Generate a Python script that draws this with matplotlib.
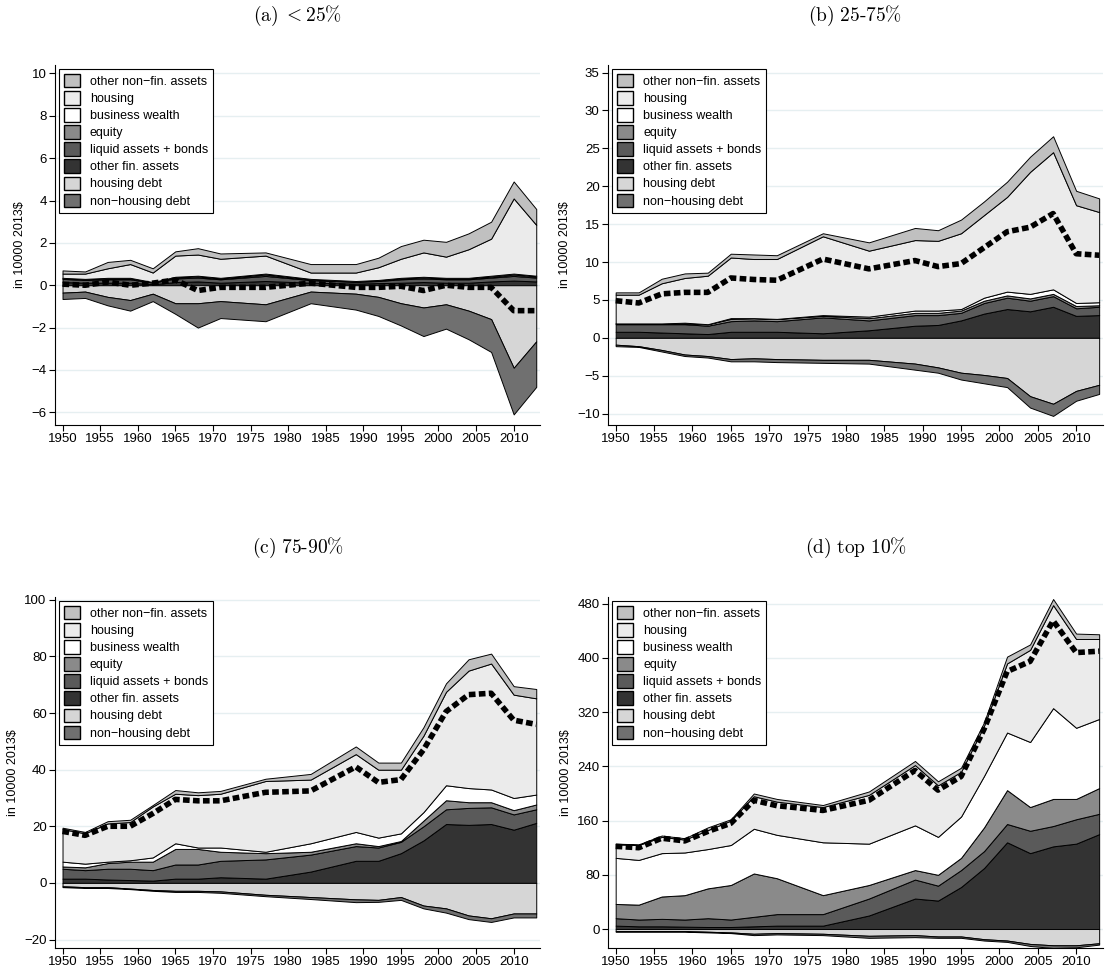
import numpy as np
import matplotlib.pyplot as plt
from matplotlib.patches import Patch

plt.rcParams['mathtext.fontset'] = 'cm'
plt.rcParams['font.family'] = ['Liberation Sans', 'DejaVu Sans']

years = [1950, 1953, 1956, 1959, 1962, 1965, 1968, 1971, 1977, 1983,
         1989, 1992, 1995, 1998, 2001, 2004, 2007, 2010, 2013]

# cumulative tops of the stacked asset layers (bottom to top) and debt bottoms
panels = {
    '(a)\\ <25\\%': dict(
        of=[0.15, 0.12, 0.12, 0.12, 0.05, 0.15, 0.18, 0.12, 0.2, 0.12, 0.08, 0.1, 0.12, 0.15, 0.12, 0.12, 0.18, 0.22, 0.18],
        liq=[0.3, 0.25, 0.28, 0.28, 0.12, 0.32, 0.36, 0.28, 0.44, 0.24, 0.16, 0.2, 0.28, 0.32, 0.28, 0.28, 0.36, 0.44, 0.36],
        eq=[0.33, 0.28, 0.32, 0.32, 0.14, 0.37, 0.41, 0.32, 0.5, 0.27, 0.18, 0.23, 0.32, 0.36, 0.32, 0.32, 0.4, 0.5, 0.41],
        bus=[0.35, 0.3, 0.35, 0.35, 0.15, 0.4, 0.45, 0.35, 0.55, 0.3, 0.2, 0.25, 0.35, 0.4, 0.35, 0.35, 0.45, 0.55, 0.45],
        hou=[0.55, 0.55, 0.8, 1.0, 0.6, 1.4, 1.45, 1.25, 1.4, 0.6, 0.6, 0.85, 1.25, 1.55, 1.35, 1.7, 2.2, 4.1, 2.85],
        tot=[0.7, 0.65, 1.1, 1.2, 0.8, 1.6, 1.75, 1.5, 1.55, 1.0, 1.0, 1.3, 1.85, 2.15, 2.05, 2.45, 3.0, 4.9, 3.6],
        hd=[-0.35, -0.3, -0.55, -0.7, -0.4, -0.85, -0.85, -0.75, -0.9, -0.3, -0.4, -0.55, -0.85, -1.05, -0.9, -1.2, -1.6, -3.9, -2.65],
        nhd=[-0.65, -0.6, -0.95, -1.2, -0.75, -1.35, -2.0, -1.55, -1.7, -0.85, -1.15, -1.45, -1.9, -2.4, -2.05, -2.55, -3.15, -6.1, -4.8],
        net=[0.05, 0, 0.15, 0, 0.1, 0.25, -0.25, -0.1, -0.1, 0.1, -0.1, -0.1, -0.05, -0.25, 0, -0.1, -0.1, -1.2, -1.2],
        ylim=(-6.6, 10.4), yticks=[-6, -4, -2, 0, 2, 4, 6, 8, 10]),
    '(b)\\ 25\\text{-}75\\%': dict(
        of=[0.8, 0.8, 0.7, 0.6, 0.5, 0.8, 0.8, 0.8, 0.6, 1.0, 1.6, 1.7, 2.3, 3.2, 3.8, 3.5, 4.1, 2.9, 3.0],
        liq=[1.8, 1.8, 1.8, 1.8, 1.6, 2.2, 2.3, 2.2, 2.7, 2.3, 3.0, 3.0, 3.3, 4.6, 5.3, 4.9, 5.5, 3.9, 4.1],
        eq=[1.9, 1.9, 1.9, 1.9, 1.8, 2.5, 2.6, 2.5, 2.9, 2.6, 3.3, 3.3, 3.6, 4.9, 5.6, 5.2, 5.8, 4.2, 4.3],
        bus=[1.9, 1.9, 1.9, 2.0, 1.8, 2.6, 2.6, 2.5, 3.0, 2.8, 3.6, 3.6, 3.8, 5.3, 6.1, 5.8, 6.4, 4.6, 4.7],
        hou=[5.7, 5.7, 7.2, 7.9, 8.2, 10.6, 10.4, 10.4, 13.4, 11.5, 12.9, 12.8, 13.8, 16.2, 18.6, 21.9, 24.5, 17.5, 16.6],
        tot=[6.0, 6.0, 7.8, 8.5, 8.6, 11.1, 11.0, 10.9, 13.8, 12.6, 14.5, 14.2, 15.6, 18.0, 20.6, 23.9, 26.6, 19.4, 18.4],
        hd=[-0.9, -1.1, -1.6, -2.2, -2.4, -2.8, -2.7, -2.8, -2.9, -2.9, -3.4, -3.9, -4.6, -4.9, -5.3, -7.7, -8.7, -7.0, -6.2],
        nhd=[-1.1, -1.2, -1.8, -2.4, -2.6, -3.1, -3.1, -3.2, -3.3, -3.4, -4.2, -4.6, -5.5, -6.0, -6.5, -9.2, -10.3, -8.3, -7.4],
        net=[4.9, 4.6, 5.8, 6.0, 6.0, 7.9, 7.7, 7.6, 10.4, 9.1, 10.2, 9.4, 9.8, 11.9, 14.0, 14.6, 16.4, 11.1, 10.9],
        ylim=(-11.5, 36), yticks=[-10, -5, 0, 5, 10, 15, 20, 25, 30, 35]),
    '(c)\\ 75\\text{-}90\\%': dict(
        of=[1.5, 1.5, 1.2, 1.0, 0.8, 1.5, 1.5, 2.0, 1.5, 4.0, 7.8, 7.8, 10.5, 15, 20.8, 20.5, 20.8, 18.8, 21.2],
        liq=[5, 4.5, 5, 5, 4.5, 6.5, 6.5, 7.8, 8.3, 10, 13, 12.5, 14.5, 20, 26, 26.5, 26.7, 24.2, 26],
        eq=[5.8, 5.5, 7, 7.5, 7.5, 12, 12, 11, 10.5, 11, 14, 13, 14.8, 22, 29.2, 28.5, 28.5, 25.7, 27.7],
        bus=[7.5, 6.8, 7.5, 8, 9, 14, 12.5, 12.5, 11, 14, 18, 16, 17.5, 25, 34.5, 33.5, 33, 30, 31.2],
        hou=[19, 17.5, 21, 21.5, 27, 31.5, 31, 31.5, 36, 36.5, 45.5, 40, 40, 52, 67.5, 75, 77.5, 66.5, 65.2],
        tot=[19.5, 18, 21.8, 22.3, 27.5, 32.8, 32, 32.5, 36.8, 38.5, 48.2, 42.5, 42.5, 55, 70.5, 79, 81, 69.5, 68.5],
        hd=[-1.2, -1.5, -1.5, -2, -2.5, -2.8, -2.8, -3, -4.2, -5, -5.8, -6, -5, -8, -9, -11.5, -12.5, -10.8, -10.8],
        nhd=[-1.5, -1.8, -1.8, -2.2, -2.8, -3.2, -3.2, -3.5, -4.7, -5.7, -6.8, -6.7, -6, -9, -10.5, -12.8, -13.8, -12.2, -12.2],
        net=[18.2, 16.8, 20, 20, 24.5, 29.5, 29, 29, 32, 32.5, 41, 35.5, 36.5, 47, 60.5, 66.5, 67, 57.5, 56],
        ylim=(-23, 101), yticks=[-20, 0, 20, 40, 60, 80, 100]),
    '(d)\\ top\\ 10\\%': dict(
        of=[5, 4, 4, 3.5, 3, 3, 4, 5, 5, 20, 45, 42, 62, 90, 128, 112, 122, 126, 140],
        liq=[16, 14, 15, 14, 16, 14, 18, 22, 22, 45, 73, 64, 87, 115, 155, 145, 152, 162, 170],
        eq=[37, 36, 48, 50, 60, 65, 82, 75, 50, 65, 87, 80, 105, 150, 205, 180, 192, 192, 208],
        bus=[105, 102, 112, 113, 118, 124, 148, 139, 128, 126, 153, 136, 166, 226, 290, 276, 326, 297, 310],
        hou=[125, 124, 136, 132, 146, 160, 196, 188, 180, 198, 242, 212, 232, 300, 392, 412, 478, 428, 428],
        tot=[126, 125, 138, 134, 150, 162, 200, 192, 183, 203, 248, 218, 238, 305, 402, 420, 487, 436, 435],
        hd=[-3, -3, -3, -3, -4, -5, -7, -6, -7, -10, -9, -11, -11, -15, -17, -22, -24, -24, -21],
        nhd=[-4, -4, -4, -4, -5, -6, -9, -8, -9, -13, -12, -13, -13, -17, -19, -25, -28, -27, -23],
        net=[122, 120, 134, 130, 144, 156, 190, 182, 175, 190, 234, 205, 225, 295, 380, 395, 455, 408, 410],
        ylim=(-28, 490), yticks=[0, 80, 160, 240, 320, 400, 480]),
}

colors = {'tot': '#c0c0c0', 'hou': '#ebebeb', 'bus': '#ffffff', 'eq': '#8a8a8a',
          'liq': '#5a5a5a', 'of': '#333333', 'hd': '#d6d6d6', 'nhd': '#707070'}
labels = {'tot': 'other non\u2212fin. assets', 'hou': 'housing', 'bus': 'business wealth',
          'eq': 'equity', 'liq': 'liquid assets + bonds', 'of': 'other fin. assets',
          'hd': 'housing debt', 'nhd': 'non\u2212housing debt'}

fig = plt.figure(figsize=(11.06, 9.75), dpi=100)
W, H = 1106, 975
boxes = [(55, 65, 540, 425), (608, 65, 1103, 425), (55, 597, 540, 948), (608, 597, 1103, 948)]
title_y = [16, 16, 548, 548]

for (title, d), (x0, y0, x1, y1), ty in zip(panels.items(), boxes, title_y):
    ax = fig.add_axes([x0 / W, 1 - y1 / H, (x1 - x0) / W, (y1 - y0) / H])
    fig.text((x0 + x1) / 2 / W, 1 - ty / H, '$\\mathrm{' + title + '}$', ha='center', va='center', fontsize=14)
    prev = np.zeros(len(years))
    for key in ['of', 'liq', 'eq', 'bus', 'hou', 'tot']:
        top = np.array(d[key], dtype=float)
        ax.fill_between(years, prev, top, facecolor=colors[key], edgecolor='black', linewidth=0.7, zorder=2)
        prev = top
    prev = np.zeros(len(years))
    for key in ['hd', 'nhd']:
        bot = np.array(d[key], dtype=float)
        ax.fill_between(years, prev, bot, facecolor=colors[key], edgecolor='black', linewidth=0.7, zorder=2)
        prev = bot
    ax.plot(years, d['net'], color='black', linestyle=(0, (1.2, 0.6)), linewidth=4, zorder=3)

    ax.set_xlim(1949, 2013.5)
    ax.set_ylim(*d['ylim'])
    ax.set_yticks(d['yticks'])
    ax.set_xticks(range(1950, 2011, 5))
    ax.yaxis.grid(True, color='#e6eff1', linewidth=1, zorder=0)
    ax.set_axisbelow(True)
    for s in ['top', 'right']:
        ax.spines[s].set_visible(False)
    ax.tick_params(labelsize=9.5, direction='out', length=4, pad=2)
    ax.set_ylabel('in 10000 2013$', fontsize=9)

    order = ['tot', 'hou', 'bus', 'eq', 'liq', 'of', 'hd', 'nhd']
    handles = [Patch(facecolor=colors[k], edgecolor='black', label=labels[k]) for k in order]
    leg = ax.legend(handles=handles, loc='upper left', fontsize=9, fancybox=False,
                    edgecolor='black', framealpha=1, handlelength=1.3, handleheight=1.3,
                    labelspacing=0.25, borderaxespad=0.3, borderpad=0.4)
    leg.get_frame().set_linewidth(0.8)

fig.savefig('out.png', dpi=100, facecolor='white')
